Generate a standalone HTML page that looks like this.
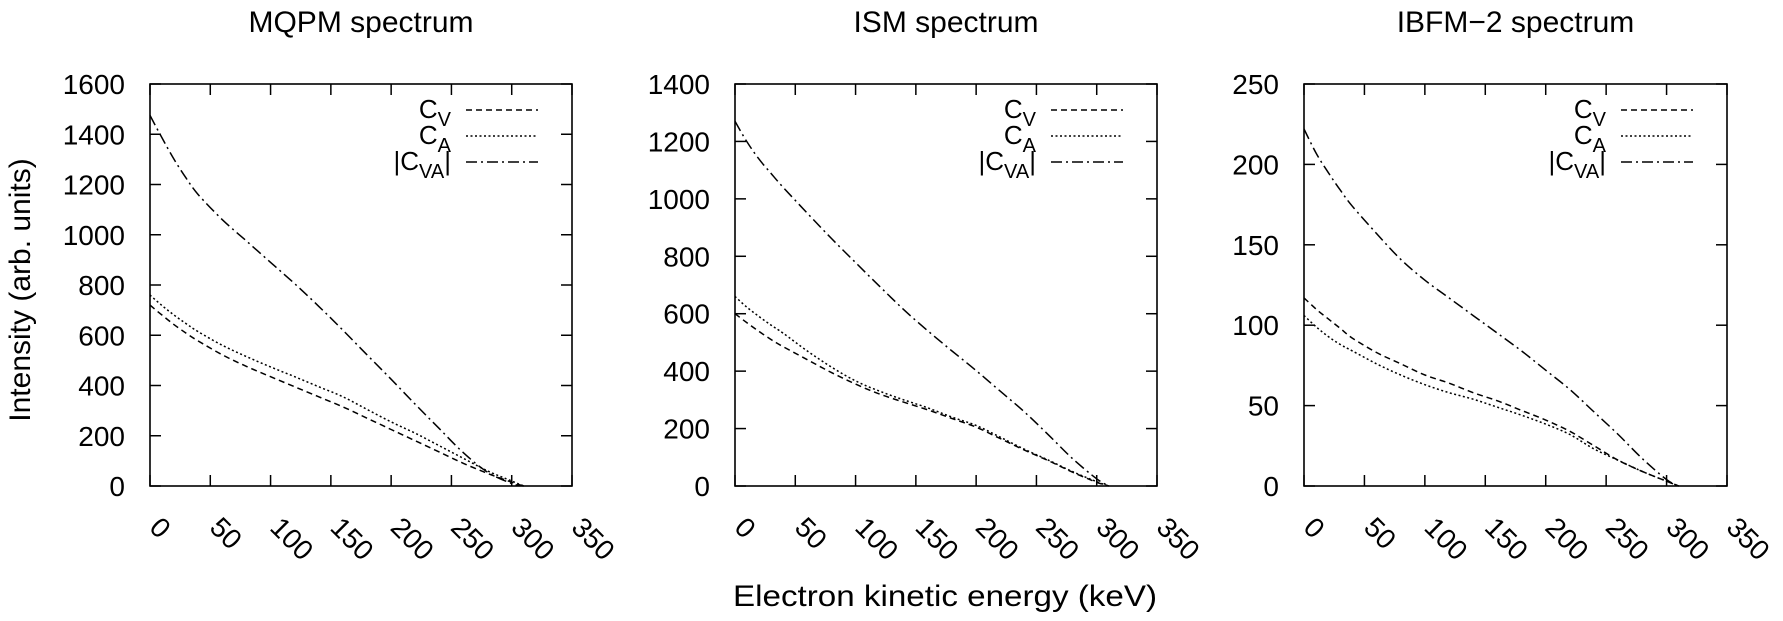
<!DOCTYPE html>
<html><head><meta charset="utf-8"><style>
html,body{margin:0;padding:0;background:#fff;}
svg{display:block;font-family:"Liberation Sans",sans-serif;}
</style></head><body>
<svg id="fig" width="1783" height="621" viewBox="0 0 1783 621" xmlns="http://www.w3.org/2000/svg">
<text x="22" y="290" font-size="30" text-anchor="middle" transform="rotate(-90 22 290)" dominant-baseline="middle">Intensity (arb. units)</text>
<text x="945" y="606" font-size="30" text-anchor="middle" textLength="424" lengthAdjust="spacingAndGlyphs">Electron kinetic energy (keV)</text>
</svg>
<script>
const energies = [0,10,20,30,40,60,80,100,120,140,160,180,200,220,240,260,280,300,310];
const xTicks = [0,50,100,150,200,250,300,350];
const mqpmCV  = [720,680,642,608,577,522,476,435,395,355,315,270,225,180,135,90,50,15,0];
const mqpmCA  = [760,718,680,646,614,560,515,474,435,395,355,305,255,210,160,110,60,20,0];
const mqpmCVA = [1475,1385,1300,1225,1160,1060,975,890,805,715,620,522,425,325,228,132,55,10,0];
const ismCV  = [600,568,538,510,485,440,395,355,320,292,265,235,205,165,125,88,48,13,0];
const ismCA  = [660,622,590,560,532,470,414,366,330,300,272,240,211,170,128,90,50,15,0];
const ismCVA = [1270,1198,1138,1088,1040,950,862,778,695,614,540,470,402,330,258,178,95,25,0];
const ibfmCV  = [117,110,104,98,92,83,76,69,64,58,53,47,41,34,25,16,9,3,0];
const ibfmCA  = [106,99,93,88,84,76,69,63,58,54,49,44,38.5,32,23,16,9,3,0];
const ibfmCVA = [222,207,195,184,174,157,141,128,117,106,95,84,72,60,46,32,17,4,0];
const mqpmYTicks = [0,200,400,600,800,1000,1200,1400,1600];
const ismYTicks = [0,200,400,600,800,1000,1200,1400];
const ibfmYTicks = [0,50,100,150,200,250];

const NS = "http://www.w3.org/2000/svg";
const svgEl = document.getElementById('fig');
function mk(tag, attrs, parent){ const e=document.createElementNS(NS,tag); for(const k in attrs) e.setAttribute(k,attrs[k]); (parent||svgEl).appendChild(e); return e; }
function smoothPath(pts){
  let d = 'M'+pts[0][0].toFixed(1)+','+pts[0][1].toFixed(1);
  for(let i=0;i<pts.length-1;i++){
    const p0=pts[Math.max(i-1,0)], p1=pts[i], p2=pts[i+1], p3=pts[Math.min(i+2,pts.length-1)];
    const c1=[p1[0]+(p2[0]-p0[0])/6, p1[1]+(p2[1]-p0[1])/6];
    const c2=[p2[0]-(p3[0]-p1[0])/6, p2[1]-(p3[1]-p1[1])/6];
    d += ' C'+c1[0].toFixed(1)+','+c1[1].toFixed(1)+' '+c2[0].toFixed(1)+','+c2[1].toFixed(1)+' '+p2[0].toFixed(1)+','+p2[1].toFixed(1);
  }
  return d;
}

const panels = [
 {key:'mqpm', title:'MQPM spectrum', left:150, right:572, yTicks:mqpmYTicks, ymax:1600, cv:mqpmCV, ca:mqpmCA, cva:mqpmCVA},
 {key:'ism', title:'ISM spectrum', left:735, right:1157, yTicks:ismYTicks, ymax:1400, cv:ismCV, ca:ismCA, cva:ismCVA},
 {key:'ibfm2', title:'IBFM\u22122 spectrum', left:1304, right:1727, yTicks:ibfmYTicks, ymax:250, cv:ibfmCV, ca:ibfmCA, cva:ibfmCVA}
];
const plotTop=84, plotBottom=486;

panels.forEach(p=>{
  const g = mk('g',{});
  
  
  const xs = v => p.left + (v/350)*(p.right-p.left);
  const ys = v => plotBottom - (v/p.ymax)*(plotBottom-plotTop);
  const t = mk('text',{x:(p.left+p.right)/2, y:32, 'font-size':30, 'text-anchor':'middle'}, g);
  t.textContent = p.title;
  
  
  const fr = mk('rect',{x:p.left,y:plotTop,width:p.right-p.left,height:plotBottom-plotTop,fill:'none',stroke:'#000','stroke-width':1.6}, g);
  
  
  p.yTicks.forEach(v=>{
    const y = ys(v);
    mk('line',{x1:p.left,x2:p.left+11,y1:y,y2:y,stroke:'#000','stroke-width':1.5},g);
    mk('line',{x1:p.right,x2:p.right-11,y1:y,y2:y,stroke:'#000','stroke-width':1.5},g);
    const l = mk('text',{x:p.left-25,y:y+10,'font-size':28,'text-anchor':'end'},g);
    l.textContent = v;
    
    
  });
  xTicks.forEach(v=>{
    const x = xs(v);
    mk('line',{x1:x,x2:x,y1:plotBottom,y2:plotBottom-11,stroke:'#000','stroke-width':1.5},g);
    mk('line',{x1:x,x2:x,y1:plotTop,y2:plotTop+11,stroke:'#000','stroke-width':1.5},g);
    const bx = x-2, by = 529;
    const l = mk('text',{x:bx,y:by,'font-size':28,transform:`rotate(45 ${bx} ${by})`},g);
    l.textContent = v;
    
    
  });
  const series = [
    {name:'cv', data:p.cv, dash:'6 4'},
    {name:'ca', data:p.ca, dash:'2 2.5'},
    {name:'cva', data:p.cva, dash:'11 4 2 4'}
  ];
  series.forEach(s=>{
    const pts = energies.map((e,i)=>[xs(e), ys(s.data[i])]);
    const path = mk('path',{d:smoothPath(pts),fill:'none',stroke:'#000','stroke-width':1.5,'stroke-dasharray':s.dash},g);
    
    
  });
  const lg = mk('g',{},g);
  
  
  const tx = p.right-121, lx1 = p.right-106, lx2 = p.right-34;
  const rows = [
    {y:110, main:'C', sub:'V', pre:'', post:'', dash:'6 4'},
    {y:136, main:'C', sub:'A', pre:'', post:'', dash:'2 2.5'},
    {y:162, main:'C', sub:'VA', pre:'|', post:'|', dash:'11 4 2 4'}
  ];
  rows.forEach((r,i)=>{
    const te = mk('text',{x:tx,y:r.y+8,'font-size':26,'text-anchor':'end'},lg);
    
    
    if(r.pre){ const a=mk('tspan',{},te); a.textContent=r.pre; }
    const m = mk('tspan',{},te); m.textContent = r.main;
    const sb = mk('tspan',{'font-size':20,dy:8},te); sb.textContent = r.sub;
    if(r.post){ const b=mk('tspan',{dy:-8},te); b.textContent=r.post; }
    const ln = mk('line',{x1:lx1,x2:lx2,y1:r.y,y2:r.y,stroke:'#000','stroke-width':1.5,'stroke-dasharray':r.dash},lg);
    
    
  });
});
</script>
</body></html>
